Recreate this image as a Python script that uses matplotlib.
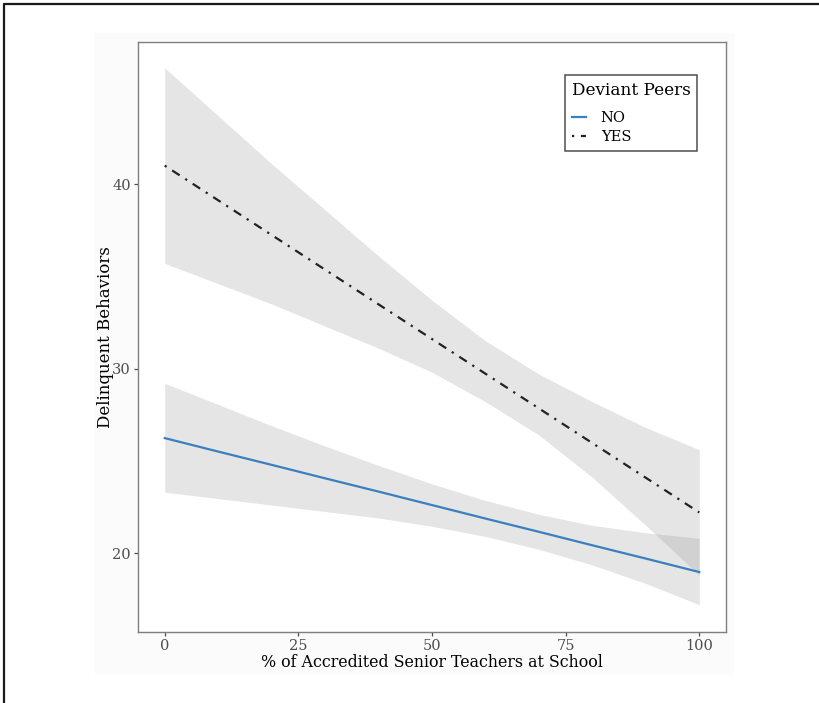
import numpy as np
import matplotlib
matplotlib.use("Agg")
import matplotlib.pyplot as plt
from matplotlib.lines import Line2D
from matplotlib.patches import Rectangle

# valeurs
pct = [0, 10, 20, 30, 40, 50, 60, 70, 80, 90, 100]

no_fit = [26.23, 25.50, 24.78, 24.05, 23.33, 22.60, 21.87, 21.15, 20.42, 19.70, 18.97]
no_hi = [29.2, 28.05, 26.9, 25.8, 24.75, 23.75, 22.85, 22.1, 21.5, 21.1, 20.8]
no_lo = [23.3, 22.95, 22.6, 22.25, 21.9, 21.45, 20.9, 20.2, 19.35, 18.35, 17.2]

yes_fit = [41.0, 39.12, 37.24, 35.36, 33.48, 31.6, 29.72, 27.84, 25.96, 24.08, 22.2]
yes_hi = [46.3, 43.7, 41.1, 38.6, 36.1, 33.7, 31.5, 29.7, 28.2, 26.8, 25.6]
yes_lo = [35.7, 34.6, 33.5, 32.3, 31.1, 29.8, 28.2, 26.4, 24.1, 21.5, 18.8]

x_ticks = [0, 25, 50, 75, 100]
y_ticks = [20, 30, 40]

plt.rcParams['font.family'] = ['DejaVu Serif']

fig = plt.figure(figsize=(8.19, 7.03), dpi=100)

# cadre exterieur (gauche + haut) et fond tres clair
fig.add_artist(Line2D([4/819, 4/819, 1.0], [0.0, 1 - 4/703, 1 - 4/703],
                      transform=fig.transFigure, color="#1a1a1a", lw=1.6))
fig.add_artist(Rectangle((95/819, 1 - 673/703), 638/819, 640/703,
                         transform=fig.transFigure, color="#fbfbfb", zorder=0))

ax = fig.add_axes([138/819, 1 - 632/703, 588/819, 590/703])
ax.set_facecolor("white")

ax.fill_between(pct, no_lo, no_hi, color="#999999", alpha=0.25, lw=0)
ax.fill_between(pct, yes_lo, yes_hi, color="#999999", alpha=0.25, lw=0)
ax.plot(pct, no_fit, color="#3a7fc0", lw=1.6, label="NO")
ax.plot(pct, yes_fit, color="#222222", lw=1.6, ls=(0, (1, 3, 4, 3)), label="YES")

ax.set_xlim(-5, 105)
ax.set_ylim(15.72, 47.7)
ax.set_xticks(x_ticks)
ax.set_yticks(y_ticks)
for s in ax.spines.values():
    s.set_color("#7f7f7f")
    s.set_linewidth(1.0)
ax.tick_params(colors="#4d4d4d", labelsize=10.5, length=3, width=0.9)
ax.tick_params(axis="x", pad=2)
ax.tick_params(axis="y", pad=2)

ax.set_xlabel("% of Accredited Senior Teachers at School", fontsize=11.4, labelpad=1)
ax.set_ylabel("Delinquent Behaviors", fontsize=12, labelpad=-1)

leg = ax.legend(title="Deviant Peers", loc="upper right", bbox_to_anchor=(0.9507, 0.944),
                borderaxespad=0, fontsize=10.5, title_fontsize=12.2, frameon=True,
                fancybox=False, handlelength=1.0, handletextpad=1.0, borderpad=0.45,
                labelspacing=0.35)
leg.get_frame().set_edgecolor("#222222")
leg.get_frame().set_linewidth(1.1)
leg._legend_box.align = "left"
leg._legend_box.sep = 9

fig.savefig("out.png", dpi=100)
